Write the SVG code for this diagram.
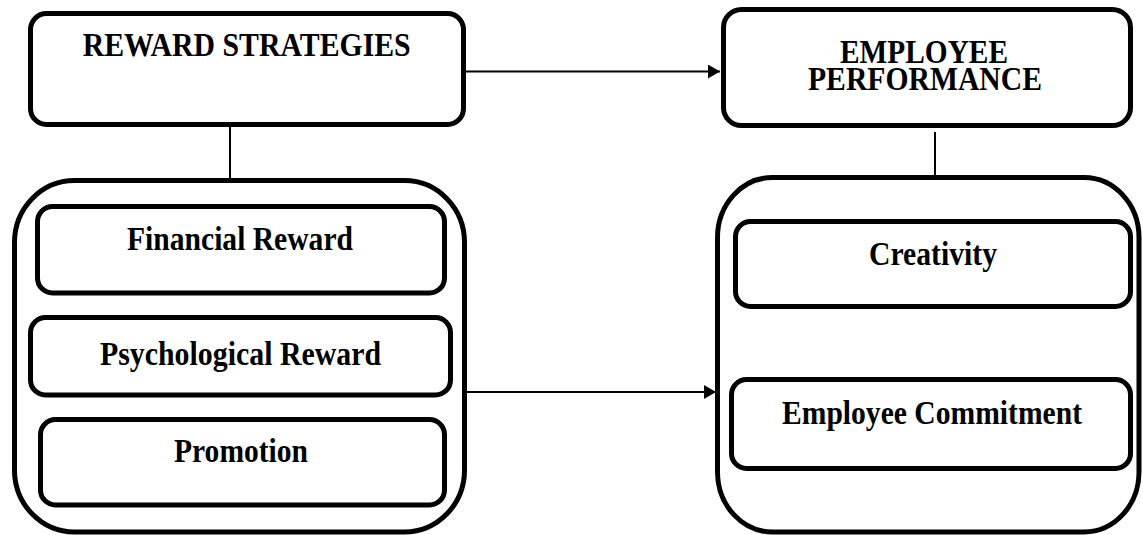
<svg xmlns="http://www.w3.org/2000/svg" width="1143" height="535" viewBox="0 0 1143 535">
  <style>
    .box { fill: #ffffff; stroke: #000000; stroke-width: 5; }
    .lbl { font-family: "Liberation Serif", "Times New Roman", serif; font-weight: bold; font-size: 33px; fill: #000000; text-anchor: middle; }
    .conn { stroke: #000000; stroke-width: 2; fill: none; }
  </style>
  <defs>
    <marker id="arrow" markerUnits="userSpaceOnUse" markerWidth="13" markerHeight="15" refX="12" refY="7" orient="auto">
      <path d="M0,0 L12,7 L0,14 Z" fill="#000000"/>
    </marker>
  </defs>
  <rect x="0" y="0" width="1143" height="535" fill="#ffffff"/>

  <g id="connectors">
    <line class="conn" x1="466" y1="71.5" x2="720" y2="71.5" marker-end="url(#arrow)"/>
    <line class="conn" x1="467" y1="392" x2="716" y2="392" marker-end="url(#arrow)"/>
    <line class="conn" x1="230" y1="127" x2="230" y2="180"/>
    <line class="conn" x1="935" y1="132" x2="935" y2="177"/>
  </g>

  <g id="reward-strategies">
    <rect class="box" x="30.5" y="13.5" width="433" height="111" rx="16" ry="16"/>
    <text class="lbl" x="246.7" y="56" textLength="328" lengthAdjust="spacingAndGlyphs">REWARD STRATEGIES</text>
  </g>

  <g id="employee-performance">
    <rect class="box" x="723.5" y="9.5" width="407" height="116" rx="18" ry="18"/>
    <text class="lbl" x="924" y="63" textLength="168" lengthAdjust="spacingAndGlyphs">EMPLOYEE</text>
    <text class="lbl" x="925" y="90" textLength="234" lengthAdjust="spacingAndGlyphs">PERFORMANCE</text>
  </g>

  <g id="reward-group">
    <rect class="box" x="14.5" y="180.5" width="450" height="351.5" rx="60" ry="62"/>
  </g>

  <g id="financial-reward">
    <rect class="box" x="37.5" y="206.5" width="407" height="86.5" rx="15" ry="15"/>
    <text class="lbl" x="240" y="249.5" textLength="226" lengthAdjust="spacingAndGlyphs">Financial Reward</text>
  </g>

  <g id="psychological-reward">
    <rect class="box" x="30.5" y="317.5" width="420" height="77.5" rx="15" ry="15"/>
    <text class="lbl" x="240.5" y="365" textLength="281" lengthAdjust="spacingAndGlyphs">Psychological Reward</text>
  </g>

  <g id="promotion">
    <rect class="box" x="40.5" y="419.5" width="404" height="85.5" rx="15" ry="15"/>
    <text class="lbl" x="241" y="462" textLength="134" lengthAdjust="spacingAndGlyphs">Promotion</text>
  </g>

  <g id="performance-group">
    <rect class="box" x="717.5" y="177.5" width="421.5" height="354.5" rx="55" ry="60"/>
  </g>

  <g id="creativity">
    <rect class="box" x="735.5" y="221.5" width="395" height="85" rx="15" ry="15"/>
    <text class="lbl" x="933" y="265" textLength="128" lengthAdjust="spacingAndGlyphs">Creativity</text>
  </g>

  <g id="employee-commitment">
    <rect class="box" x="731.5" y="379.5" width="399" height="89" rx="15" ry="15"/>
    <text class="lbl" x="932" y="423.5" textLength="300" lengthAdjust="spacingAndGlyphs">Employee Commitment</text>
  </g>
</svg>
